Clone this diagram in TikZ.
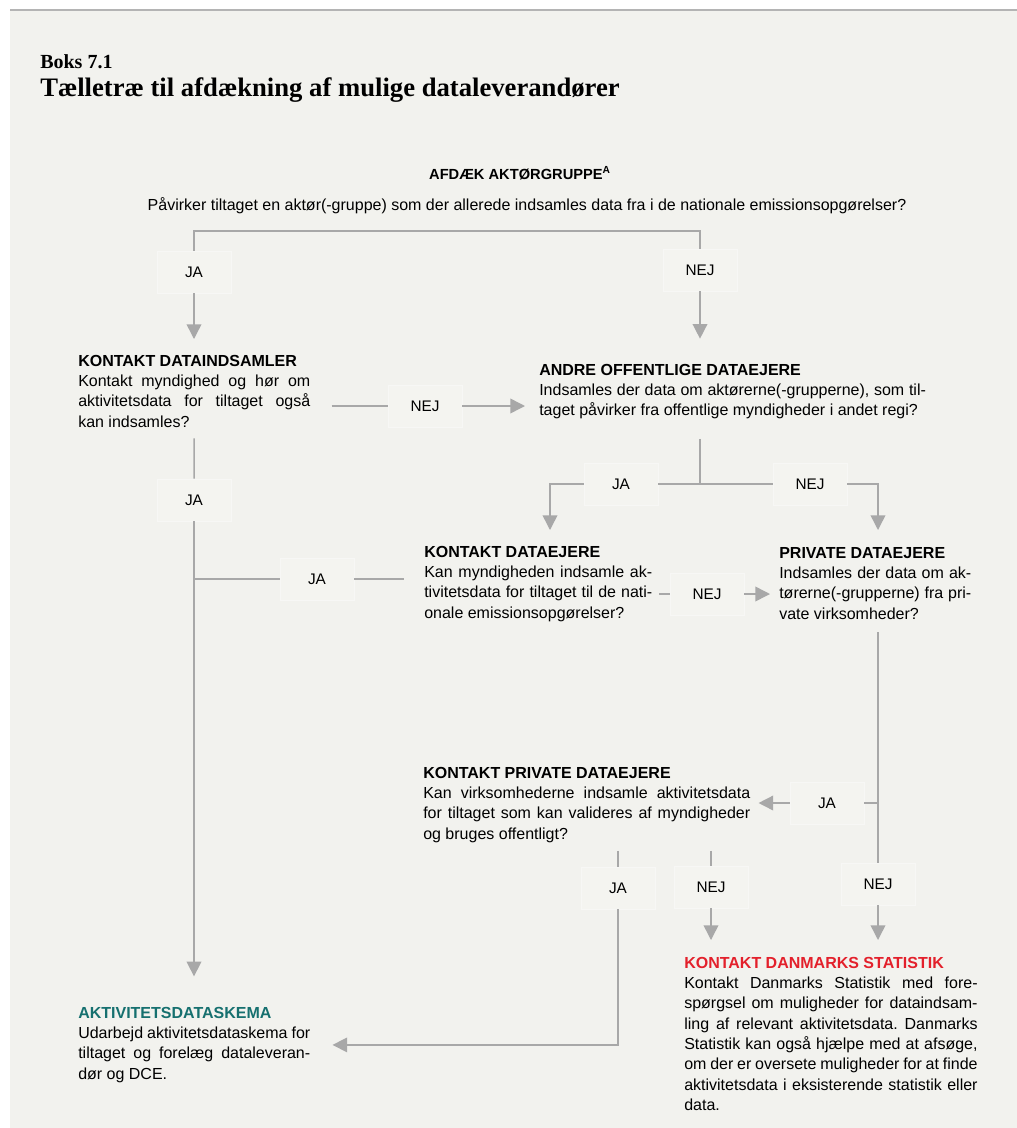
\documentclass[tikz,border=0pt]{standalone}
\usepackage{fontspec}
\setmainfont{Liberation Sans}
\newfontfamily\serifbold{Liberation Serif}
\frenchspacing
\usetikzlibrary{arrows.meta, positioning, calc}
\definecolor{cbg}{HTML}{F2F2EE}
\definecolor{cline}{HTML}{A8A8A8}
\definecolor{crule}{HTML}{B4B4B4}
\definecolor{cteal}{HTML}{16706F}
\definecolor{cred}{HTML}{E3202B}
\tikzset{
  conn/.style={draw=cline, line width=1.1pt},
  arrow/.style={conn, -{Triangle[length=11pt, width=11pt]}},
  answer/.style={draw=cbg!60!white, fill=cbg!88!white, minimum width=55.5pt, minimum height=31.5pt,
                 inner sep=0pt, font=\fontsize{11.5}{13}\selectfont},
  txt/.style={anchor=north west, inner sep=0pt, align=justify, text width=#1,
              font=\fontsize{12}{15.2}\selectfont},
  heading/.style={anchor=base west, inner sep=0pt, font=\serifbold\bfseries\fontsize{#1}{#1}\selectfont},
  top/.style={anchor=base, inner sep=0pt, font=\fontsize{12}{14}\selectfont},
}

\begin{document}
\begin{tikzpicture}[x=0.75pt, y=-0.75pt]
  \useasboundingbox (0,0) rectangle (1017,1128);
  \fill[cbg] (10,11) rectangle (1017,1128);
  \draw[crule, line width=1.1pt] (10,10) -- (1017,10);

  % headings
  \node[heading=15] (boks) at (40,68) {Boks 7.1};
  \node[heading=20] (titel) at (40,96) {Tælletræ til afdækning af mulige dataleverandører};
  \node[top, font=\bfseries\fontsize{11}{12}\selectfont] (afdaek) at (520,179) {AFDÆK AKTØRGRUPPE\textsuperscript{A}};
  \node[top] (question) at (527,210) {Påvirker tiltaget en aktør(-gruppe) som der allerede indsamles data fra i de nationale emissionsopgørelser?};

  % steps
  \node[txt=174pt] (kdi) at (78,355) {\textbf{KONTAKT DATAINDSAMLER}\\
    Kontakt myndighed og hør om\linebreak aktivitetsdata for tiltaget også\linebreak kan indsamles?};
  \node[txt=290pt] (andre) at (539,364) {\textbf{ANDRE OFFENTLIGE DATAEJERE}\\
    Indsamles der data om aktørerne(-grupperne), som til-\linebreak taget påvirker fra offentlige myndigheder i andet regi?};
  \node[txt=171pt] (kde) at (424,546) {\textbf{KONTAKT DATAEJERE}\\
    Kan myndigheden indsamle ak-\linebreak tivitetsdata for tiltaget til de nati-\linebreak onale emissionsopgørelser?};
  \node[txt=144pt] (pde) at (779,547) {\textbf{PRIVATE DATAEJERE}\\
    Indsamles der data om ak-\linebreak \mbox{tørerne(-grupperne)} fra pri-\linebreak vate virksomheder?};
  \node[txt=245.25pt] (kpd) at (423,767) {\textbf{KONTAKT PRIVATE DATAEJERE}\\
    Kan virksomhederne indsamle aktivitetsdata\linebreak for tiltaget som kan valideres af myndigheder\linebreak og bruges offentligt?};
  \node[txt=174pt] (akt) at (78,1007) {\textcolor{cteal}{\textbf{AKTIVITETSDATASKEMA}}\\
    Udarbejd aktivitetsdataskema for\linebreak tiltaget og forelæg dataleveran-\linebreak dør og DCE.};
  \node[txt=220pt] (dst) at (684,957) {\textcolor{cred}{\textbf{KONTAKT DANMARKS STATISTIK}}\\
    Kontakt Danmarks Statistik med fore-\linebreak spørgsel om muligheder for dataindsam-\linebreak ling af relevant aktivitetsdata. Danmarks\linebreak Statistik kan også hjælpe med at afsøge,\linebreak om der er oversete muligheder for at finde\linebreak aktivitetsdata i eksisterende statistik eller\linebreak data.};

  % answers
  \node[answer] (jaA) at (194,272) {JA};
  \node[answer] (nejA) at (700,270) {NEJ};
  \node[answer] (nejB) at (425,406) {NEJ};
  \node[answer] (jaB) at (194,500) {JA};
  \node[answer] (jaC) at (621,484) {JA};
  \node[answer] (nejC) at (810,484) {NEJ};
  \node[answer] (jaD) at (317,579) {JA};
  \node[answer] (nejD) at (707,594) {NEJ};
  \node[answer] (jaE) at (827,803) {JA};
  \node[answer] (nejE) at (878,884) {NEJ};
  \node[answer] (jaF) at (618,888) {JA};
  \node[answer] (nejF) at (711,887) {NEJ};
  \coordinate (barL) at (194,231);
  \coordinate (barR) at (700,231);
  \coordinate (split) at (700,484);

  % connectors
  \draw[conn] (jaA) -- (barL) -- (barR) -- (nejA);
  \draw[arrow, shorten >=12pt] (jaA) -- (jaA |- kdi.north);
  \draw[arrow, shorten >=19pt] (nejA) -- (nejA |- andre.north);
  \draw[conn, shorten <=15.75pt] (kdi.east |- nejB) -- (nejB);
  \draw[arrow, shorten >=10.5pt] (nejB) -- (nejB -| andre.west);
  \draw[conn, shorten <=14.5pt] (andre.south -| split) -- (split) -- (jaC);
  \draw[conn] (split) -- (nejC);
  \draw[arrow, shorten >=12pt] (jaC) -| ($(kde.north west)+(126,0)$);
  \draw[arrow, shorten >=12.75pt] (nejC) -| ($(pde.north west)+(99,0)$);
  \draw[conn, shorten <=8pt] (kdi.south) -- (jaB);
  \draw[arrow, shorten >=23pt] (jaB) -- (jaB |- akt.north);
  \draw[conn] (jaD) -- (jaD -| jaB);
  \draw[conn, shorten >=15pt] (jaD) -- (jaD -| kde.west);
  \draw[conn, shorten <=5pt] (kde.east |- nejD) -- (nejD);
  \draw[arrow, shorten >=6.75pt] (nejD) -- (nejD -| pde.west);
  \draw[conn, shorten <=9.5pt] ($(pde.south west)+(99,0)$) -- (nejE);
  \draw[conn] (jaE) -- (jaE -| nejE);
  \draw[arrow, shorten >=6pt] (jaE) -- (jaE -| kpd.east);
  \draw[arrow, shorten >=12.75pt] (nejE) -- (nejE |- dst.north);
  \draw[conn, shorten <=6pt] (jaF |- kpd.south) -- (jaF);
  \draw[conn, shorten <=6pt] (nejF |- kpd.south) -- (nejF);
  \draw[arrow, shorten >=16.5pt] (jaF) |- (akt.east);
  \draw[arrow, shorten >=12.75pt] (nejF) -- (nejF |- dst.north);
\end{tikzpicture}
\end{document}
